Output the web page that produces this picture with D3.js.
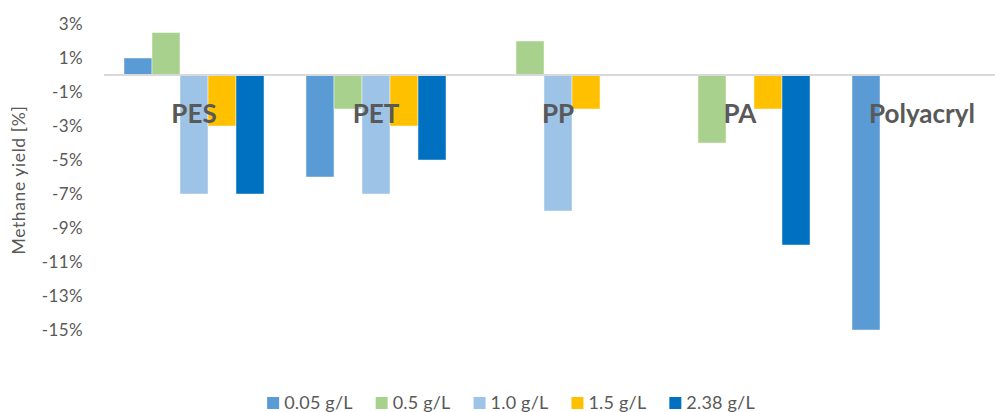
<!DOCTYPE html>
<html>
<head>
<meta charset="utf-8">
<script src="https://cdn.jsdelivr.net/npm/d3@7"></script>
<style>
  html, body { margin: 0; padding: 0; background: #fff; overflow: hidden; }
  svg { display: block; font-family: Lato, "Open Sans", sans-serif; }
</style>
</head>
<body>
<svg id="chart" width="995" height="412"></svg>
<script>
// Materials tested and dosages (series)
const categories = ["PES", "PET", "PP", "PA", "Polyacryl"];
const seriesNames = ["0.05 g/L", "0.5 g/L", "1.0 g/L", "1.5 g/L", "2.38 g/L"];
const seriesColors = ["#5B9BD5", "#A9D18E", "#9DC3E6", "#FFC000", "#0070C0"];

// Change in methane yield [%] per material; null = no bar
const yield005 = [1, -6, null, null, -15];
const yield05  = [2.5, -2, 2, -4, null];
const yield10  = [-7, -7, -8, null, null];
const yield15  = [-3, -3, -2, -2, null];
const yield238 = [-7, -5, null, -10, null];

const yTicks = [3, 1, -1, -3, -5, -7, -9, -11, -13, -15];

const seriesValues = [yield005, yield05, yield10, yield15, yield238];

const svg = d3.select("#chart");
const textColor = "#595959";

// Plot geometry
const plotLeft = 103, plotRight = 1013;
const x = d3.scaleBand()
  .domain(categories)
  .range([plotLeft, plotRight])
  .paddingInner(0.2308)
  .paddingOuter(0.1154);

const xs = d3.scaleBand()
  .domain(seriesNames)
  .range([0, x.bandwidth()]);

const y = d3.scaleLinear()
  .domain([-15, 3])
  .range([330, 24]);

// Y axis labels
const yAxis = d3.axisLeft(y)
  .tickValues(yTicks)
  .tickFormat(d => d + "%")
  .tickSize(0)
  .tickPadding(0);

const yg = svg.append("g")
  .attr("transform", `translate(83,0)`)
  .call(yAxis);
yg.select(".domain").remove();
yg.selectAll("text")
  .attr("fill", textColor)
  .style("font-size", "17px")
  .style("letter-spacing", "0.4px")
  .style("font-family", "Lato, sans-serif");

// Axis title
svg.append("text")
  .attr("transform", `translate(25,180) rotate(-90)`)
  .attr("text-anchor", "middle")
  .attr("fill", textColor)
  .style("font-size", "17.5px")
  .style("letter-spacing", "0.6px")
  .text("Methane yield [%]");

// Bars
const barData = [];
categories.forEach((c, ci) => {
  seriesNames.forEach((s, si) => {
    const v = seriesValues[si][ci];
    if (v !== null) barData.push({ c, s, si, v });
  });
});

svg.append("g")
  .selectAll("rect")
  .data(barData)
  .join("rect")
  .attr("x", d => x(d.c) + xs(d.s))
  .attr("width", xs.bandwidth())
  .attr("y", d => y(Math.max(0, d.v)))
  .attr("height", d => Math.abs(y(d.v) - y(0)))
  .attr("fill", d => seriesColors[d.si])
  .attr("stroke", "#ffffff")
  .attr("stroke-opacity", 0.6)
  .attr("stroke-width", 0.75);

// Zero line
svg.append("line")
  .attr("x1", plotLeft + 1)
  .attr("x2", plotRight)
  .attr("y1", y(0))
  .attr("y2", y(0))
  .attr("stroke", "#d9d9d9")
  .attr("stroke-width", 2);

// Category labels below the zero line
svg.append("g")
  .selectAll("text")
  .data(categories)
  .join("text")
  .attr("x", d => x(d) + x.bandwidth() / 2)
  .attr("y", y(0) + 48)
  .attr("text-anchor", "middle")
  .attr("fill", textColor)
  .style("font-size", "26px")
  .style("font-weight", "bold")
  .text(d => d);

// Legend
const legend = svg.append("g");
const items = legend.selectAll("g")
  .data(seriesNames)
  .join("g");
items.append("rect")
  .attr("width", 12)
  .attr("height", 12)
  .attr("y", -12)
  .attr("fill", (d, i) => seriesColors[i]);
items.append("text")
  .attr("x", 17)
  .attr("y", 0)
  .attr("fill", textColor)
  .style("font-size", "18px")
  .style("letter-spacing", "0.2px")
  .text(d => d);

const gap = 23;
let cursor = 0;
items.each(function () {
  const g = d3.select(this);
  g.attr("transform", `translate(${cursor},0)`);
  const w = 17 + g.select("text").node().getComputedTextLength();
  cursor += w + gap;
});
const totalW = cursor - gap;
legend.attr("transform", `translate(${511 - totalW / 2},409)`);
</script>
</body>
</html>
